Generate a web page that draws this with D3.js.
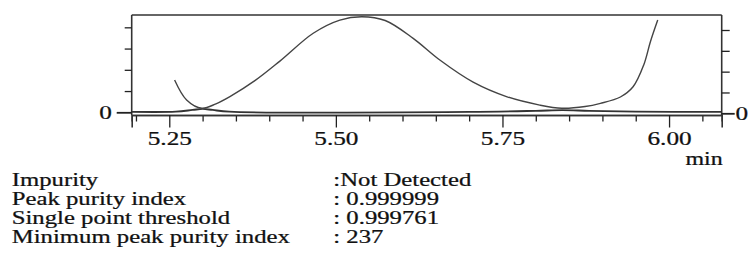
<!DOCTYPE html>
<html>
<head>
<meta charset="utf-8">
<script src="https://cdn.jsdelivr.net/npm/d3@7"></script>
<style>
	body { margin: 0; background: #fff; }
	#chart { width: 748px; height: 256px; }
	text { font-family: "Liberation Serif", "Times New Roman", serif; fill: #111; stroke: #111; stroke-width: 0.25px; }
</style>
</head>
<body>
<div id="chart"></div>
<script>
// chromatogram (min, signal)
const peakTimes = [5.258, 5.276, 5.299, 5.320, 5.341, 5.379, 5.416, 5.466, 5.506, 5.539, 5.574, 5.616, 5.656, 5.706, 5.757, 5.806, 5.839, 5.874, 5.897, 5.927, 5.946, 5.962, 5.972, 5.983];
const peakValues = [1.52, 0.58, 0.19, 0.40, 0.74, 1.50, 2.41, 3.72, 4.34, 4.50, 4.32, 3.48, 2.46, 1.42, 0.73, 0.34, 0.19, 0.27, 0.42, 0.72, 1.20, 2.23, 3.32, 4.34];

// purity / noise trace near zero
const noiseTimes = [5.194, 5.26, 5.285, 5.30, 5.315, 5.34, 5.70, 5.80, 5.84, 5.88, 5.95, 6.079];
const noiseValues = [0.02, 0.03, 0.11, 0.16, 0.11, 0.03, 0.02, 0.07, 0.10, 0.07, 0.03, 0.02];

const xMajorTicks = [5.25, 5.50, 5.75, 6.00];
const xMinorTicks = [5.20, 5.30, 5.35, 5.40, 5.45, 5.55, 5.60, 5.65, 5.70, 5.80, 5.85, 5.90, 5.95, 6.05];
const yLeftTicks = [0, 1, 2, 3, 4];
const yRightTicks = [0, 1, 2, 3, 4];

const infoLabels = ['Impurity', 'Peak purity index', 'Single point threshold', 'Minimum peak purity index'];
const infoValues = [':Not Detected', ': 0.999999', ': 0.999761', ': 237'];

const stretch = 'scale(1.33,1)';
const el = document.getElementById('chart');
el.innerHTML = '<svg height="256" width="748"></svg>';
const svg = d3.select(el.firstElementChild);

const box = { left: 131.7, right: 721.7, top: 15, bottom: 115 };

const x = d3.scaleLinear().domain([5.1936, 6.079]).range([box.left, box.right]);
const yLeft = d3.scaleLinear().domain([0, 4.58]).range([112.3, 15]);
const yRight = d3.scaleLinear().domain([0, 4]).range([113.3, 30]);

// frame
svg.append('line')
	.attr('x1', box.left).attr('x2', box.right)
	.attr('y1', box.top).attr('y2', box.top)
	.attr('stroke', '#666').attr('stroke-width', 2);
svg.append('line')
	.attr('x1', box.left).attr('x2', box.left)
	.attr('y1', box.top).attr('y2', box.bottom)
	.attr('stroke', '#333').attr('stroke-width', 1.6);
svg.append('line')
	.attr('x1', box.right).attr('x2', box.right)
	.attr('y1', box.top).attr('y2', box.bottom)
	.attr('stroke', '#333').attr('stroke-width', 1.6);

// x axis
const xMinor = svg.append('g')
	.attr('transform', 'translate(0,' + box.bottom + ')')
	.call(d3.axisBottom(x).tickValues(xMinorTicks).tickSize(6.5).tickFormat(''));
const xMajor = svg.append('g')
	.attr('transform', 'translate(0,' + box.bottom + ')')
	.call(d3.axisBottom(x).tickValues(xMajorTicks).tickSize(12.5).tickFormat(d3.format('.2f')));
[xMinor, xMajor].forEach(g => {
	g.select('.domain').attr('stroke', '#333').attr('stroke-width', 1.6);
	g.selectAll('.tick line').attr('stroke', '#222').attr('stroke-width', 1.3);
});
xMajor.selectAll('.tick text')
	.attr('y', 30).attr('dy', 0)
	.attr('font-size', 19)
	.attr('transform', stretch)
	.style('fill', '#111');
svg.append('text')
	.attr('transform', 'translate(704,165) ' + stretch)
	.attr('text-anchor', 'middle')
	.attr('font-size', 18)
	.text('min');

// left y axis
const yl = svg.append('g')
	.attr('transform', 'translate(' + box.left + ',0)')
	.call(d3.axisLeft(yLeft).tickValues(yLeftTicks).tickSize(7).tickFormat(d => d === 0 ? '0' : ''));
yl.select('.domain').remove();
yl.selectAll('.tick line').attr('stroke', '#222').attr('stroke-width', 1.3);
yl.selectAll('.tick').filter(d => d === 0).select('line').attr('x2', -15).attr('stroke-width', 1.8);
yl.selectAll('.tick text')
	.attr('x', -15).attr('dy', '0.33em')
	.attr('font-size', 19)
	.attr('transform', stretch)
	.style('fill', '#111');

// right y axis
const yr = svg.append('g')
	.attr('transform', 'translate(' + box.right + ',0)')
	.call(d3.axisRight(yRight).tickValues(yRightTicks).tickSize(8).tickFormat(d => d === 0 ? '0' : ''));
yr.select('.domain').remove();
yr.selectAll('.tick line').attr('stroke', '#222').attr('stroke-width', 1.3);
yr.selectAll('.tick').filter(d => d === 0).select('line').attr('x2', 13).attr('stroke-width', 1.8);
yr.selectAll('.tick text')
	.attr('x', 10.3).attr('dy', '0.33em')
	.attr('font-size', 19)
	.attr('transform', stretch)
	.style('fill', '#111');

// traces
const lineGen = d3.line()
	.x(d => x(d[0]))
	.y(d => yLeft(d[1]))
	.curve(d3.curveCatmullRom.alpha(0.5));

svg.append('path')
	.datum(noiseTimes.map((t, i) => [t, noiseValues[i]]))
	.attr('d', lineGen)
	.attr('fill', 'none')
	.attr('stroke', '#333')
	.attr('stroke-width', 1.8);

svg.append('path')
	.datum(peakTimes.map((t, i) => [t, peakValues[i]]))
	.attr('d', lineGen)
	.attr('fill', 'none')
	.attr('stroke', '#444')
	.attr('stroke-width', 1.4);

// purity info block
const rowY = [185.5, 204.5, 223.5, 243];
const info = svg.append('g').attr('class', 'info');
info.selectAll('.label').data(infoLabels).enter()
	.append('text')
	.attr('class', 'label')
	.attr('transform', (d, i) => 'translate(11.7,' + rowY[i] + ') ' + stretch)
	.attr('font-size', 18.6)
	.text(d => d);
info.selectAll('.value').data(infoValues).enter()
	.append('text')
	.attr('class', 'value')
	.attr('transform', (d, i) => 'translate(333.3,' + rowY[i] + ') ' + stretch)
	.attr('font-size', 18.6)
	.text(d => d);
</script>
</body>
</html>
